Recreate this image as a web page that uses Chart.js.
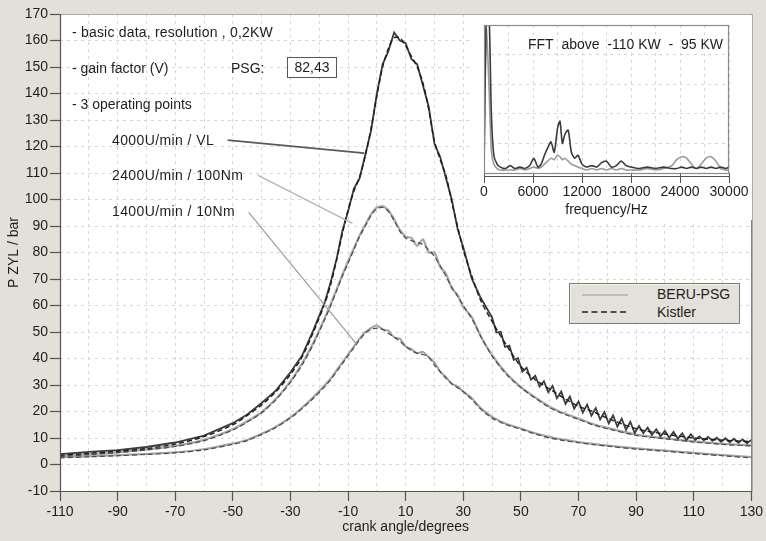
<!DOCTYPE html>
<html>
<head>
<meta charset="utf-8">
<script src="https://cdn.jsdelivr.net/npm/chart.js@4/dist/chart.umd.min.js"></script>
<style>
  html, body { margin: 0; padding: 0; background: #e3dfd9; }
  #wrap { position: relative; width: 766px; height: 541px; overflow: hidden;
          font-family: "Liberation Sans", Arial, Helvetica, sans-serif; color: #1e1e1e; }
  #main { position: absolute; left: 0; top: 0; }
  #inset { position: absolute; left: 470px; top: 15px; }
  .ann { position: absolute; font-size: 14px; line-height: 16px; white-space: nowrap; }
  #psgbox { position: absolute; left: 287px; top: 57px; width: 50px; height: 21px; box-sizing: border-box;
            border: 1px solid #555; background: #fff; font-size: 14px; line-height: 19px; text-align: center; }
  #legend { position: absolute; left: 569px; top: 283px; width: 171px; height: 41px; box-sizing: border-box;
            background: #e4e0da; border: 1px solid #7a7a7a; box-shadow: inset 1px 1px 0 #f4f2ee; }
  #legend span { position: absolute; left: 87px; font-size: 14px; line-height: 16px; }
  #legend svg { position: absolute; left: 12px; }
</style>
</head>
<body>
<div id="wrap">
  <canvas id="main" width="766" height="541"></canvas>
  <canvas id="inset" width="282" height="205"></canvas>

  <div class="ann" style="left:72px;top:24px;letter-spacing:0.2px;">- basic data, resolution , 0,2KW</div>
  <div class="ann" style="left:72px;top:60px;">- gain factor (V)</div>
  <div class="ann" style="left:231px;top:60px;">PSG:</div>
  <div id="psgbox">82,43</div>
  <div class="ann" style="left:72px;top:96px;">- 3 operating points</div>
  <div class="ann" style="left:112px;top:132px;letter-spacing:0.4px;">4000U/min / VL</div>
  <div class="ann" style="left:112px;top:167px;letter-spacing:0.4px;">2400U/min / 100Nm</div>
  <div class="ann" style="left:112px;top:203px;letter-spacing:0.4px;">1400U/min / 10Nm</div>

  <div id="legend">
    <svg style="top:9px" width="48" height="4"><line x1="0" y1="2" x2="46" y2="2" stroke="#999" stroke-width="1"/></svg>
    <span style="top:2px;">BERU-PSG</span>
    <svg style="top:26px" width="48" height="4"><line x1="0" y1="2" x2="46" y2="2" stroke="#1e1e1e" stroke-width="1.6" stroke-dasharray="6,3.5"/></svg>
    <span style="top:20px;">Kistler</span>
  </div>
</div>

<script>
// ---------------- data ----------------
const crankAngle = [-110,-100,-90,-80,-70,-60,-50,-45,-40,-35,-30,-26,-22,-18,-16,-14,-12,-10,-8,-6,-4,-2,
                    0,2,4,6,8,10,12,14,16,18,20,22,24,26,28,30,33,36,40,45,50,55,60,65,70,75,80,90,100,110,120,130];

const kistler4000 = [3.5,4.2,5,6,7.7,10.5,15,18.5,22.5,27.5,34,40.5,50,61,68,77,87,96,103,108.5,116.5,127,
                     139,150,157,161,161,158,154,150,144,134,122,115,109,99,90,81,71,62,54,45,37,32,28.5,25,22,20,17.5,13.5,11.5,10,9.2,8.6];
const psg4000Head = [3.9,4.8,5.4,6.6,8.3,10.9,15.6,18.9,23.2,28,34.8,41,50.8,61.5,69,77.5,88,95.5,104,108,117,126,
                     140,151,156,163,160,159,153,151,143,135,121,116,108,100,89,82,70,63];
const psgTailAngle = [40,41.5,43,44.5,46,47.5,49,50.5,52,53.5,55,56.5,58,59.5,61,62.5,64,65.5,67,68.5,70,71.5,73,74.5,
                      76,77.5,79,80.5,82,83.5,85,86.5,88,89.5,91,92.5,94,95.5,97,98.5,100,101.5,103,104.5,106,107.5,
                      109,110.5,112,113.5,115,116.5,118,119.5,121,122.5,124,125.5,127,128.5,130];
const psg4000Tail = [55.5,49.8,50.1,44.4,44.9,39.5,40.1,35,36.5,32,33.5,29.4,31.4,27.3,29.6,25,27.5,22.9,25.6,21.1,
                     23.8,19.6,22.6,18.4,21.3,17,19.8,15.5,18.5,14.3,17.3,13.1,16.1,11.9,14.5,11.8,13.9,11.2,13.3,10.6,
                     12.7,10.1,12.3,9.7,11.8,9.2,11.4,9.3,10.6,9.1,10.4,8.9,10.1,8.6,9.9,8.4,9.7,8.2,9.5,8,9.3];

const kistler2400 = [3,3.7,4.5,5.5,6.8,9,13,16,19.5,24.5,31,37.5,45.5,55,60,65.5,71,76,81,86,90,94,
                     96.5,97,95.5,92,88,85.5,84.5,83.8,83,81,78.5,75,71,67,63.5,60,55,48.5,41,34,29,25,21.5,19,17,15,13.5,11,9.7,8.5,7.6,7];
const psg2400 = [3.2,3.9,4.6,5.7,7,9.3,13.3,16.3,19.8,24.8,31.4,38,46,55.5,60.6,66,71.5,76.6,81.5,86.4,90.5,94.5,
                 97,97.5,96,92.5,88.5,86,85.5,82.5,85,80,80,74.5,72,66.5,64,59.5,55.5,48.5,41.3,34.3,29.2,25.3,21.8,19.3,17.3,15.3,13.8,11.3,9.9,8.7,7.8,7.2];

const kistler1400 = [2.5,2.9,3.3,3.8,4.4,5.5,7.6,9,11.3,14,17.5,21,25,29.5,32,35,38,41,44,47,49.5,51,
                     51.5,51,49.5,48,46.5,44.5,43,42,41.5,40.5,37.5,35,32.5,30.5,29,27.5,24.5,21,17.5,15,13.3,11.5,10,9,8.2,7.5,6.9,5.8,5,4.1,3.3,2.5];
const psg1400 = [2.8,3.1,3.5,4,4.6,5.8,7.9,9.3,11.6,14.3,17.8,21.4,25.5,30,32.5,35.5,38.5,41.5,44.5,47.5,50,51.5,
                 52.5,51,50.5,48,47.5,44.5,43.5,42,42.5,40.5,38.5,35,33,30.5,29.5,27.5,25,21.3,18,15.3,13.6,11.8,10.4,9.3,8.5,7.8,7.2,6.1,5.3,4.4,3.6,2.8];

const fftFreq = [0,300,600,900,1200, 1600,2000,2600,3200,3800, 4400,5000,5600,6100,6600, 7000,7400,7800,8200,8600,
                 9000,9300,9600,9900,10300, 10700,11100,11500,12000,12600, 13200,13800,14400,15000,15600,
                 16200,16800,17400,18000,19000, 20000,21000,22000,23000,23600, 24200,24800,25400,26000,26600,
                 27200,27800,28400,29000,29600, 30000];
const fftKistler = [5,110,110,40,12, 6,4,3,5,3, 4,3,5,10,4, 6,12,17,21,14, 30,35,20,26,29, 14,10,12,6,4,
                    5,4,7,8,4, 5,8,5,4,3, 4,3,4,3,3, 4,3,4,3,4, 3,4,3,4,3, 4];
const fftPsg = [2,100,60,15,6, 3,2,2,2,2, 3,2,3,4,3, 4,6,8,10,9, 12,11,9,10,8, 6,5,4,3,2,
                3,2,3,2,3, 2,3,2,2,2, 3,2,3,5,9, 11,10,6,3,6, 10,11,8,3,2, 2];

const xTickLabels = [-110,-90,-70,-50,-30,-10,10,30,50,70,90,110,130];
const fftTickLabels = [0,6000,12000,18000,24000,30000];

// ---------------- helpers ----------------
const pts = (xs, ys) => xs.map((v, i) => ({ x: v, y: ys[i] }));
const psg4000 = pts(crankAngle.slice(0, psg4000Head.length), psg4000Head).concat(pts(psgTailAngle, psg4000Tail));

Chart.defaults.font.family = '"Liberation Sans", Arial, Helvetica, sans-serif';
Chart.defaults.font.size = 14;
Chart.defaults.color = '#1e1e1e';

const gridColor = '#d6d6d6';

const mainDecor = {
  id: 'mainDecor',
  beforeDraw(chart) {
    const { ctx, chartArea: a } = chart;
    ctx.save();
    ctx.fillStyle = '#ffffff';
    ctx.fillRect(a.left, a.top, a.right - a.left, a.bottom - a.top);
    ctx.restore();
  },
  afterDatasetsDraw(chart) {
    const { ctx, chartArea: a, scales: { x, y } } = chart;
    ctx.save();
    const leaders = [
      { from: [-51.8, 122.4], to: [-4.4, 117.5], color: '#5a5a5a', width: 1.8 },
      { from: [-41.4, 109.2], to: [-8.5, 91], color: '#b4b4b4', width: 1.2 },
      { from: [-44.5, 95.1], to: [-7.1, 45.5], color: '#9c9c9c', width: 1.2 }
    ];
    leaders.forEach(l => {
      ctx.strokeStyle = l.color; ctx.lineWidth = l.width;
      ctx.beginPath();
      ctx.moveTo(x.getPixelForValue(l.from[0]), y.getPixelForValue(l.from[1]));
      ctx.lineTo(x.getPixelForValue(l.to[0]), y.getPixelForValue(l.to[1]));
      ctx.stroke();
    });
    ctx.lineWidth = 1.2;
    ctx.strokeStyle = '#a8a8a8';
    ctx.beginPath(); ctx.moveTo(a.left, a.top + 0.5); ctx.lineTo(a.right, a.top + 0.5); ctx.stroke();
    ctx.strokeStyle = '#555';
    ctx.beginPath();
    ctx.moveTo(a.left + 0.5, a.top); ctx.lineTo(a.left + 0.5, a.bottom + 0.5); ctx.lineTo(a.right, a.bottom + 0.5);
    ctx.stroke();
    ctx.strokeStyle = '#6a6a6a';
    ctx.beginPath(); ctx.moveTo(a.right + 0.5, a.top); ctx.lineTo(a.right + 0.5, a.bottom + 0.5); ctx.stroke();
    ctx.restore();
  }
};

const line = (label, data, color, width, dash, order, tension) => ({
  label, data, borderColor: color, borderWidth: width, borderDash: dash, order,
  pointRadius: 0, tension, fill: false
});

new Chart(document.getElementById('main'), {
  type: 'line',
  data: {
    datasets: [
      line('Kistler 4000U/min', pts(crankAngle, kistler4000), '#1c1c1c', 1.4, [5, 3], 0, 0.3),
      line('Kistler 2400U/min', pts(crankAngle, kistler2400), '#4a4a4a', 1.2, [5, 3], 0, 0.3),
      line('Kistler 1400U/min', pts(crankAngle, kistler1400), '#4a4a4a', 1.2, [5, 3], 0, 0.3),
      line('BERU-PSG 4000U/min', psg4000, '#3c3c3c', 1.8, [], 1, 0),
      line('BERU-PSG 2400U/min', pts(crankAngle, psg2400), '#a6a6a6', 2.2, [], 1, 0.2),
      line('BERU-PSG 1400U/min', pts(crankAngle, psg1400), '#a0a0a0', 2.0, [], 1, 0.2)
    ]
  },
  options: {
    responsive: false,
    animation: false,
    layout: { padding: { left: 0, right: 13, top: 14, bottom: 0 } },
    plugins: { legend: { display: false }, tooltip: { enabled: false } },
    scales: {
      x: {
        type: 'linear', min: -110, max: 130,
        ticks: {
          stepSize: 10, autoSkip: false, maxRotation: 0, padding: 3, color: '#1e1e1e',
          callback: v => (xTickLabels.includes(v) ? String(v) : '')
        },
        grid: {
          color: gridColor, lineWidth: 1, tickLength: 10, tickWidth: 1.2,
          tickColor: ctx => (ctx.tick && xTickLabels.includes(ctx.tick.value) ? '#555' : 'rgba(0,0,0,0)')
        },
        border: { display: false, dash: [3, 4] },
        title: { display: true, text: 'crank angle/degrees', color: '#1e1e1e', padding: { top: 0, bottom: 5 } },
        afterFit(s) { s.height = 50; }
      },
      y: {
        min: -10, max: 170,
        ticks: { stepSize: 10, padding: 2, color: '#1e1e1e' },
        grid: { color: gridColor, lineWidth: 1, tickLength: 10, tickWidth: 1.2, tickColor: '#555' },
        border: { display: false, dash: [3, 4] },
        title: { display: true, text: 'P ZYL / bar', color: '#1e1e1e', padding: { top: 6, bottom: 0 } },
        afterFit(s) { s.width = 60; }
      }
    }
  },
  plugins: [mainDecor]
});

const insetDecor = {
  id: 'insetDecor',
  beforeDraw(chart) {
    const { ctx, width, height } = chart;
    ctx.save(); ctx.fillStyle = '#ffffff'; ctx.fillRect(0, 0, width, height); ctx.restore();
  },
  afterDatasetsDraw(chart) {
    const { ctx, chartArea: a } = chart;
    ctx.save();
    ctx.strokeStyle = '#8c8c8c'; ctx.lineWidth = 1.2;
    ctx.strokeRect(a.left + 0.5, a.top + 0.5, a.right - a.left - 1, a.bottom - a.top);
    ctx.strokeStyle = '#555'; ctx.lineWidth = 1;
    ctx.beginPath(); ctx.moveTo(a.left, a.bottom + 3.5); ctx.lineTo(a.right, a.bottom + 3.5); ctx.stroke();
    ctx.fillStyle = '#1e1e1e';
    ctx.font = '14px "Liberation Sans", Arial, sans-serif';
    ctx.textAlign = 'right'; ctx.textBaseline = 'middle';
    ctx.fillText('FFT  above  -110 KW  -  95 KW', a.right - 6, a.top + 20);
    ctx.restore();
  }
};

new Chart(document.getElementById('inset'), {
  type: 'line',
  data: {
    datasets: [
      { label: 'Kistler FFT', data: pts(fftFreq, fftKistler), borderColor: '#3a3a3a', borderWidth: 1.6,
        pointRadius: 0, tension: 0.25, order: 0 },
      { label: 'BERU-PSG FFT', data: pts(fftFreq, fftPsg), borderColor: '#9a9a9a', borderWidth: 1.6,
        pointRadius: 0, tension: 0.25, order: 1 }
    ]
  },
  options: {
    responsive: false,
    animation: false,
    layout: { padding: { left: 14, right: 23, top: 10, bottom: 0 } },
    plugins: { legend: { display: false }, tooltip: { enabled: false } },
    scales: {
      x: {
        type: 'linear', min: 0, max: 30000,
        ticks: {
          stepSize: 3000, autoSkip: false, maxRotation: 0, padding: 1, color: '#1e1e1e',
          callback: v => (fftTickLabels.includes(v) ? String(v) : '')
        },
        grid: {
          color: gridColor, tickLength: 10, tickWidth: 1,
          tickColor: ctx => (ctx.tick && fftTickLabels.includes(ctx.tick.value) ? '#555' : 'rgba(0,0,0,0)')
        },
        border: { display: false, dash: [3, 4] },
        title: { display: true, text: 'frequency/Hz', color: '#1e1e1e', padding: { top: 0, bottom: 1 } },
        afterFit(s) { s.height = 47; }
      },
      y: {
        min: 0, max: 100,
        ticks: { display: false, stepSize: 20 },
        grid: { color: gridColor, drawTicks: false },
        border: { display: false, dash: [3, 4] },
        afterFit(s) { s.width = 0; }
      }
    }
  },
  plugins: [insetDecor]
});
</script>
</body>
</html>
